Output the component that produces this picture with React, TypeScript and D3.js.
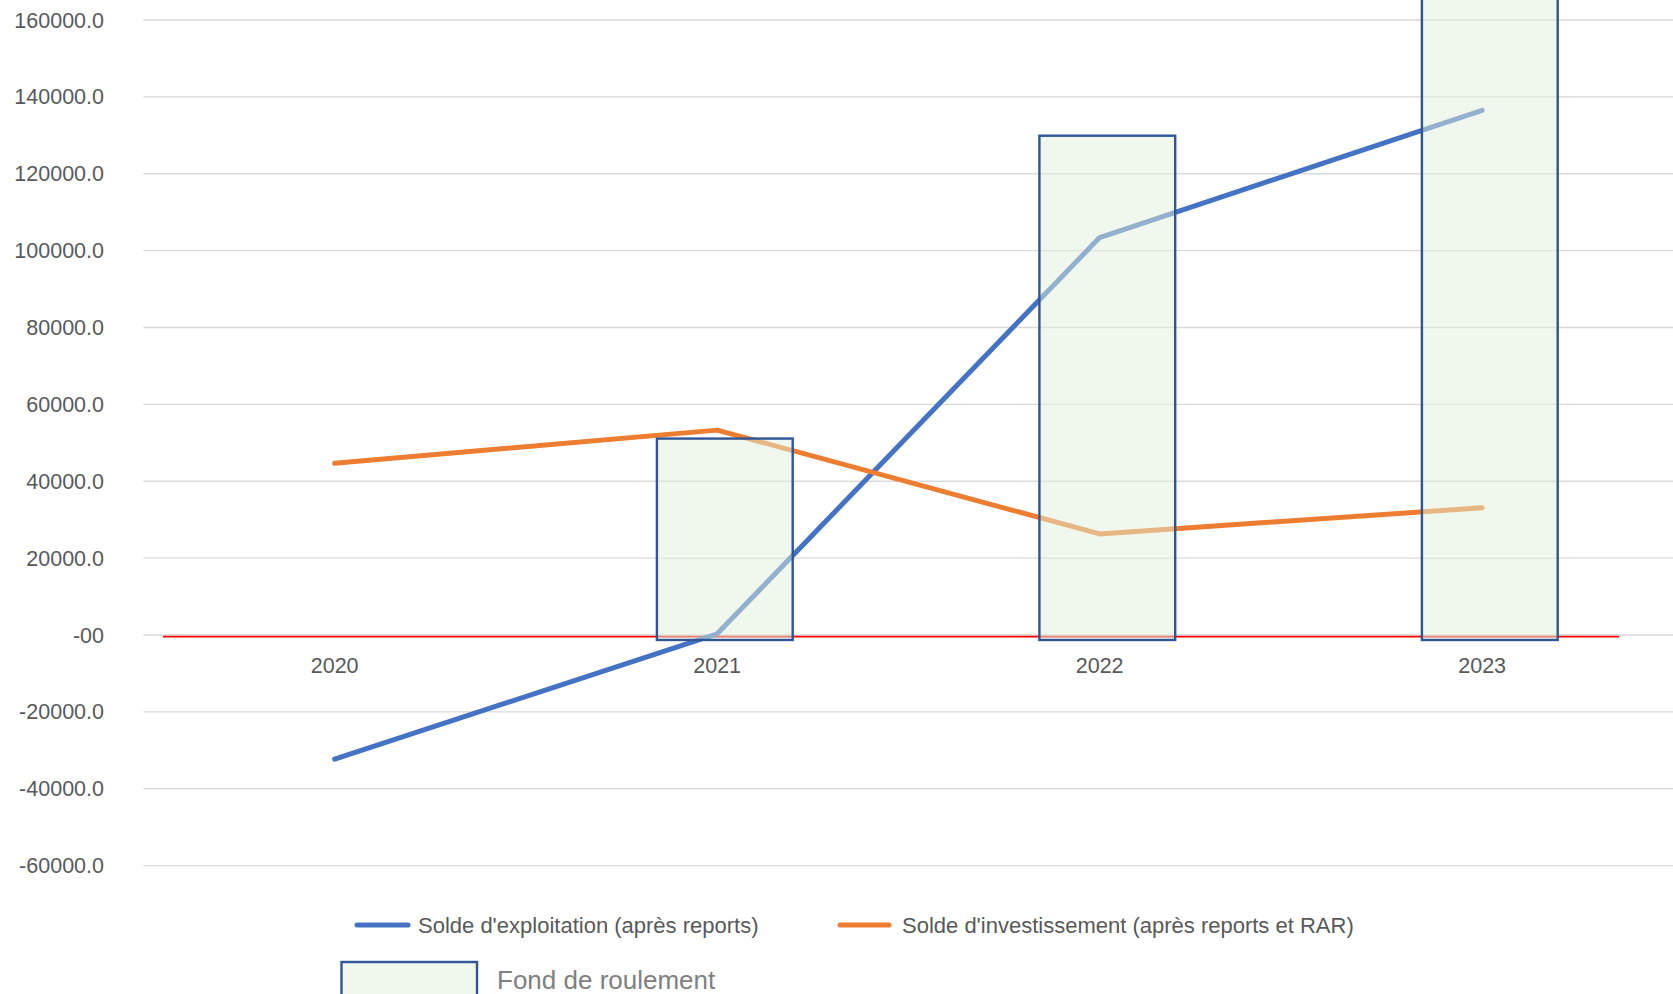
import React from "react";
import * as d3 from "d3";

const years = ["2020", "2021", "2022", "2023"];
const soldeExploitation = [-32300, 300, 103400, 136500];
const soldeInvestissement = [44700, 53300, 26300, 33100];
const fondDeRoulement = [null, 51100, 129900, 175000];
const yTicks = [-60000, -40000, -20000, 0, 20000, 40000, 60000, 80000, 100000, 120000, 140000, 160000];
const yTickLabels = ["-60000.0", "-40000.0", "-20000.0", "-00", "20000.0", "40000.0", "60000.0", "80000.0", "100000.0", "120000.0", "140000.0", "160000.0"];
const legendLabels = ["Solde d'exploitation (après reports)", "Solde d'investissement (après reports et RAR)", "Fond de roulement"];

const W = 1673;
const H = 994;
const BLUE = "#4472C4";
const ORANGE = "#ED7D31";
const BAR_FILL = "#E2EFDA";
const BAR_STROKE = "#2F5597";
const TEXT = "#595959";
const FONT = "'Liberation Sans', Arial, sans-serif";

export default function App() {
  const x = d3.scaleBand<string>().domain(years).range([143.4, 1673.4]).padding(0);
  const y = d3.scaleLinear().domain([-60000, 160000]).range([865.6, 20]);
  const step = x.bandwidth();
  const cx = (yr: string) => (x(yr) as number) + step / 2;

  const line = d3
    .line<number>()
    .x((_, i) => cx(years[i]))
    .y((v) => y(v));

  const barW = step * 0.355;
  const barShift = step * 0.02;
  const barBase = -1300;

  return (
    <svg
      width={W}
      height={H}
      style={{ position: "absolute", left: 0, top: 0, background: "#fff" }}
      fontFamily={FONT}
    >
      {/* gridlines */}
      {yTicks.map((t) => (
        <line key={t} x1={143.4} x2={W} y1={y(t)} y2={y(t)} stroke="#D9D9D9" strokeWidth={1.4} />
      ))}
      {/* y labels */}
      {yTicks.map((t, i) => (
        <text key={t} x={104} y={y(t)} dy="0.35em" textAnchor="end" fontSize={21.5} fill={TEXT}>
          {yTickLabels[i]}
        </text>
      ))}
      {/* zero red line */}
      <line
        x1={cx(years[0]) - step * 0.449}
        x2={cx(years[3]) + step * 0.358}
        y1={y(0) + 1.6}
        y2={y(0) + 1.6}
        stroke="#FF0000"
        strokeWidth={1.6}
      />
      {/* category labels */}
      {years.map((yr) => (
        <text key={yr} x={cx(yr)} y={y(0) + 30} dy="0.35em" textAnchor="middle" fontSize={21.5} fill={TEXT}>
          {yr}
        </text>
      ))}
      {/* lines */}
      <path d={line(soldeExploitation) || ""} fill="none" stroke={BLUE} strokeWidth={5} strokeLinecap="round" strokeLinejoin="round" />
      <path d={line(soldeInvestissement) || ""} fill="none" stroke={ORANGE} strokeWidth={5} strokeLinecap="round" strokeLinejoin="round" />
      {/* bars */}
      {fondDeRoulement.map((v, i) =>
        v == null ? null : (
          <rect
            key={years[i]}
            x={cx(years[i]) + barShift - barW / 2}
            y={y(v)}
            width={barW}
            height={y(barBase) - y(v)}
            fill={BAR_FILL}
            fillOpacity={0.5}
            stroke={BAR_STROKE}
            strokeWidth={2.4}
          />
        )
      )}
      {/* legend */}
      <line x1={357} x2={408} y1={925} y2={925} stroke={BLUE} strokeWidth={5} strokeLinecap="round" />
      <text x={418} y={925} dy="0.35em" fontSize={22} fill={TEXT}>
        {legendLabels[0]}
      </text>
      <line x1={840} x2={889} y1={925} y2={925} stroke={ORANGE} strokeWidth={5} strokeLinecap="round" />
      <text x={902} y={925} dy="0.35em" fontSize={22} fill={TEXT}>
        {legendLabels[1]}
      </text>
      <rect x={341.5} y={962} width={135.5} height={60} fill={BAR_FILL} fillOpacity={0.5} stroke={BAR_STROKE} strokeWidth={2.4} />
      <text x={497} y={980} dy="0.35em" fontSize={26} fill="#7F7F7F">
        {legendLabels[2]}
      </text>
    </svg>
  );
}
